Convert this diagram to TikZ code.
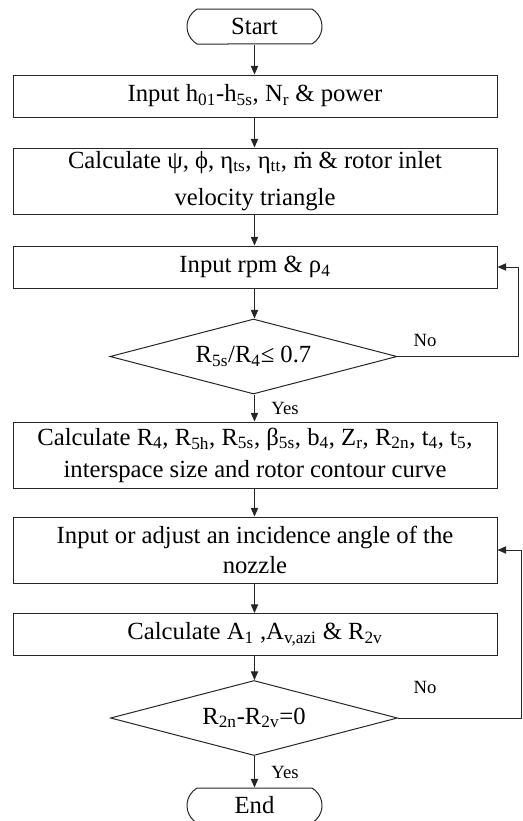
\documentclass[tikz,border=0pt]{standalone}
\usepackage{fontspec}
\setmainfont{Liberation Serif}
\usetikzlibrary{shapes.geometric,shapes.misc,arrows.meta}
\newcommand{\sbs}[1]{\textsubscript{#1}}

\begin{document}
\begin{tikzpicture}[x=0.75pt,y=0.75pt,yscale=-1,xscale=1,
  every node/.style={font=\fontsize{18.5}{23}\selectfont},
  procbox/.style={draw=black!85,line width=0.75pt,rectangle,minimum width=363pt,minimum height=31.5pt,inner sep=0.75pt,align=center},
  tallbox/.style={procbox,minimum height=49.5pt},
  termbox/.style={draw=black!85,line width=0.75pt,rounded rectangle,rounded rectangle arc length=120,minimum width=102.75pt,minimum height=26.25pt,inner sep=0.75pt},
  decbox/.style={draw=black!85,line width=0.75pt,diamond,aspect=3.8,minimum width=215.25pt,minimum height=56.25pt,inner sep=0pt},
  flow/.style={draw=black!85,line width=0.75pt,-{Triangle[length=6.5pt,width=5.5pt]}},
  ans/.style={font=\fontsize{14}{16}\selectfont,inner sep=0.75pt}]
\useasboundingbox (0,0) rectangle (522,821);

%Shape: Terminal [id:start]
\node [termbox] (start) at (254.5,26.5) {Start};
%Shape: Rectangle [id:input]
\node [procbox] (input) at (255,96) {Input h\sbs{01}-h\sbs{5s}, N\sbs{r} \& power};
%Shape: Rectangle [id:triangle]
\node [tallbox] (triangle) at (255,181) {Calculate ψ, ϕ, η\sbs{ts}, η\sbs{tt}, ṁ \& rotor inlet\\[5pt]velocity triangle};
%Shape: Rectangle [id:rpm]
\node [procbox] (rpm) at (255,267) {Input rpm \& ρ\sbs{4}};
%Shape: Diamond [id:ratio]
\node [decbox] (ratio) at (253.5,356.5) {R\sbs{5s}/R\sbs{4}≤ 0.7};
%Shape: Rectangle [id:rotor]
\node [tallbox] (rotor) at (255,455) {Calculate R\sbs{4}, R\sbs{5h}, R\sbs{5s}, β\sbs{5s}, b\sbs{4}, Z\sbs{r}, R\sbs{2n}, t\sbs{4}, t\sbs{5},\\[1pt]interspace size and rotor contour curve};
%Shape: Rectangle [id:nozzle]
\node [tallbox] (nozzle) at (255,550) {Input or adjust an incidence angle of the\\nozzle};
%Shape: Rectangle [id:area]
\node [procbox] (area) at (255,634.5) {Calculate A\sbs{1} ,A\sbs{v,azi} \& R\sbs{2v}};
%Shape: Diamond [id:radius]
\node [decbox] (radius) at (254,718) {R\sbs{2n}-R\sbs{2v}=0};
%Shape: Terminal [id:end]
\node [termbox] (end) at (254.5,805.5) {End};

%Straight Lines
\draw [flow] (start.south) -- (input.north -| start.south) ;
\draw [flow] (input.south -| start.south) -- (triangle.north -| start.south) ;
\draw [flow] (triangle.south -| start.south) -- (rpm.north -| start.south) ;
\draw [flow] (rpm.south -| start.south) -- (ratio.north -| start.south) ;
\draw [flow] (ratio.south -| start.south) -- (rotor.north -| start.south) ;
\draw [flow] (rotor.south -| start.south) -- (nozzle.north -| start.south) ;
\draw [flow] (nozzle.south -| start.south) -- (area.north -| start.south) ;
\draw [flow] (area.south -| start.south) -- (radius.north -| start.south) ;
\draw [flow] (radius.south -| start.south) -- (end.north) ;
%Loop Lines
\coordinate (back1) at (518,356.5) ;
\coordinate (back2) at (521,718) ;
\draw [flow] (ratio.east) -- (back1) |- (rpm.east) ;
\draw [flow] (radius.east) -- (back2) |- (nozzle.east) ;

% Text Node
\node [ans] (no1) at (425,340) {No};
% Text Node
\node [ans] (yes1) at (285,408) {Yes};
% Text Node
\node [ans] (no2) at (425,687) {No};
% Text Node
\node [ans] (yes2) at (285,772) {Yes};

\end{tikzpicture}
\end{document}
